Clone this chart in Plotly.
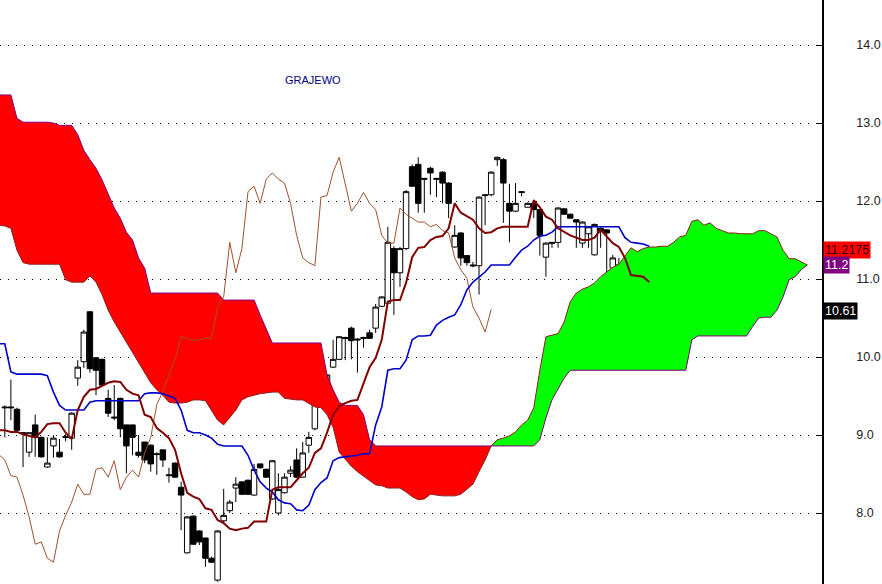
import plotly.graph_objects as go

# ---- candle data ----
opens = [9.36, 9.36, 9.33, 9.03, 8.78, 9.13, 8.97, 8.59, 8.86, 8.78,
         8.98, 8.96, 9.73, 9.94, 10.58, 9.99, 9.97, 9.47, 9.23, 9.47,
         9.13, 9.13, 8.78, 8.91, 8.87, 8.76, 8.81, 8.49, 8.64, 8.33,
         7.49, 7.96, 7.77, 7.68, 7.42, 7.14, 7.90, 8.03, 8.32, 8.40,
         8.42, 8.23, 8.63, 8.56, 8.18, 8.00, 8.26, 8.51, 8.68, 8.46,
         8.87, 9.08, 9.57, 9.56, 9.87, 9.97, 10.25, 10.37, 10.23, 10.25,
         10.31, 10.37, 10.65, 10.69, 11.39, 11.08, 11.39, 12.44, 12.47, 12.29,
         12.42, 12.29, 12.37, 12.23, 11.41, 11.59, 11.30, 11.18, 11.17, 12.08,
         12.08, 12.53, 12.53, 11.97, 11.87, 12.12, 11.92, 11.97, 11.89, 11.28,
         11.47, 11.47, 11.90, 11.83, 11.76, 11.46, 11.58, 11.31, 11.65, 11.63,
         11.14, 11.18, 11.08, 11.01, 10.58, 10.42, 10.31]
highs = [9.38, 9.71, 9.35, 9.04, 9.03, 9.26, 8.98, 8.97, 9.00, 8.95,
         9.01, 9.29, 9.96, 10.35, 10.59, 10.00, 9.98, 9.58, 9.64, 9.48,
         9.13, 9.13, 9.00, 8.91, 8.88, 8.78, 8.81, 8.58, 8.65, 8.40,
         7.96, 7.97, 7.78, 7.68, 7.44, 7.78, 8.31, 8.17, 8.46, 8.40,
         8.43, 8.63, 8.63, 8.57, 8.68, 8.51, 8.51, 8.60, 8.83, 8.91,
         9.04, 9.55, 9.57, 9.78, 10.22, 10.27, 10.26, 10.39, 10.24, 10.26,
         10.35, 10.68, 10.78, 11.67, 11.42, 11.41, 12.14, 12.47, 12.56, 12.29,
         12.44, 12.29, 12.38, 12.24, 11.69, 11.60, 11.30, 11.22, 12.06, 12.09,
         12.38, 12.57, 12.55, 12.22, 12.23, 12.12, 11.98, 12.00, 11.89, 11.47,
         11.47, 11.92, 11.90, 11.84, 11.76, 11.74, 11.67, 11.71, 11.66, 11.63,
         11.31, 11.27, 11.08, 11.02, 10.76, 10.64, 10.62]
lows = [8.97, 9.19, 9.04, 8.59, 8.72, 8.72, 8.71, 8.58, 8.71, 8.71,
        8.92, 8.81, 9.63, 9.86, 9.80, 9.51, 9.63, 9.23, 9.19, 8.97,
        8.51, 8.74, 8.71, 8.64, 8.53, 8.49, 8.59, 8.39, 8.45, 7.78,
        7.48, 7.59, 7.59, 7.31, 7.36, 7.12, 7.86, 8.00, 8.14, 8.23,
        8.23, 8.22, 8.57, 8.45, 8.17, 7.97, 8.25, 8.46, 8.45, 8.45,
        8.77, 9.06, 9.49, 9.49, 9.86, 9.96, 9.96, 9.97, 9.80, 10.12,
        10.23, 10.31, 10.64, 10.69, 10.54, 10.90, 11.37, 12.18, 11.85, 11.85,
        12.08, 12.05, 11.97, 11.78, 11.40, 11.17, 11.17, 11.15, 10.80, 11.69,
        12.06, 12.45, 11.72, 11.47, 11.86, 12.06, 11.92, 11.78, 11.30, 11.03,
        11.40, 11.40, 11.83, 11.78, 11.40, 11.40, 11.40, 11.30, 11.40, 11.03,
        11.13, 11.10, 10.39, 10.63, 10.39, 10.31, 10.30]
closes = [9.35, 9.35, 9.06, 9.02, 9.03, 8.97, 8.72, 8.64, 8.96, 8.72,
          8.97, 9.28, 9.87, 10.32, 9.85, 9.83, 9.64, 9.28, 9.22, 9.08,
          8.86, 8.97, 8.74, 8.68, 8.63, 8.75, 8.68, 8.48, 8.46, 8.23,
          7.95, 7.60, 7.63, 7.42, 7.37, 7.77, 7.97, 8.14, 8.37, 8.24,
          8.24, 8.56, 8.58, 8.46, 8.67, 8.30, 8.46, 8.55, 8.46, 8.77,
          8.97, 9.39, 9.56, 9.77, 9.97, 10.26, 10.24, 10.21, 10.22, 10.24,
          10.24, 10.64, 10.77, 11.47, 11.08, 11.39, 12.12, 12.19, 11.97, 12.28,
          12.36, 12.28, 12.23, 11.97, 11.56, 11.27, 11.21, 11.17, 12.05, 12.07,
          12.37, 12.56, 12.23, 11.87, 11.97, 12.11, 11.97, 11.89, 11.56, 11.46,
          11.46, 11.91, 11.83, 11.78, 11.73, 11.73, 11.67, 11.70, 11.62, 11.59,
          11.27, 11.12, 11.01, 10.64, 10.50, 10.32, 10.61]

# ---- Ichimoku lines, one value per period from the left edge ----
tenkan = [9.06, 9.06, 9.04, 9.04, 9.01, 8.99, 8.97, 9.04, 9.14, 9.15, 9.15,
          9.03, 8.95, 9.32, 9.49, 9.58, 9.59, 9.63, 9.67, 9.69, 9.68,
          9.58, 9.53, 9.51, 9.26, 9.23, 9.09, 9.03, 8.96, 8.81, 8.51,
          8.26, 8.21, 8.18, 8.06, 8.04, 7.91, 7.87, 7.80, 7.78, 7.80,
          7.81, 7.89, 7.89, 7.89, 8.30, 8.33, 8.33, 8.33, 8.42, 8.51,
          8.58, 8.77, 8.83, 9.03, 9.26, 9.37, 9.41, 9.44, 9.45, 9.67,
          9.87, 9.99, 10.22, 10.71, 10.73, 10.73, 10.95, 11.28, 11.40, 11.41,
          11.50, 11.54, 11.55, 11.65, 11.97, 11.85, 11.80, 11.76, 11.65, 11.59,
          11.60, 11.65, 11.67, 11.67, 11.67, 11.67, 11.67, 12.01, 11.92, 11.80,
          11.76, 11.65, 11.60, 11.56, 11.53, 11.50, 11.50, 11.53, 11.63, 11.54,
          11.46, 11.41, 11.27, 11.05, 11.04, 11.03, 10.96]
kijun = [10.17, 10.17, 9.81, 9.78, 9.78, 9.78, 9.78, 9.78, 9.76, 9.55, 9.38,
         9.32, 9.32, 9.32, 9.32, 9.42, 9.44, 9.44, 9.44, 9.44, 9.44,
         9.44, 9.44, 9.44, 9.53, 9.54, 9.54, 9.53, 9.50, 9.47, 9.32,
         9.06, 9.03, 9.03, 9.00, 8.96, 8.88, 8.86, 8.86, 8.86, 8.86,
         8.74, 8.55, 8.40, 8.32, 8.27, 8.17, 8.13, 8.12, 8.04, 8.03,
         8.10, 8.30, 8.39, 8.45, 8.67, 8.71, 8.72, 8.73, 8.74, 8.76,
         8.76, 9.13, 9.36, 9.83, 9.85, 9.85, 9.96, 10.22, 10.27, 10.27,
         10.28, 10.41, 10.47, 10.51, 10.54, 10.67, 10.86, 10.96, 11.03, 11.09,
         11.18, 11.18, 11.18, 11.18, 11.28, 11.37, 11.42, 11.50, 11.55, 11.56,
         11.60, 11.67, 11.67, 11.67, 11.67, 11.67, 11.67, 11.67, 11.67, 11.67,
         11.67, 11.67, 11.53, 11.47, 11.46, 11.45, 11.42]
span_a = [11.69, 11.68, 11.65, 11.37, 11.21, 11.19, 11.19, 11.19, 11.19, 11.19,
          11.19, 10.99, 10.96, 10.96, 10.96, 11.04, 10.96, 10.80, 10.60, 10.45,
          10.32, 10.19, 10.06, 9.94, 9.80, 9.67, 9.58, 9.51, 9.42, 9.41,
          9.41, 9.42, 9.45, 9.45, 9.44, 9.32, 9.19, 9.13, 9.22, 9.32,
          9.45, 9.49, 9.51, 9.53, 9.54, 9.55, 9.55, 9.47, 9.46, 9.45,
          9.45, 9.40, 9.36, 9.35, 9.26, 9.10, 8.78, 8.69, 8.60, 8.53,
          8.47, 8.42, 8.36, 8.35, 8.32, 8.32, 8.32, 8.27, 8.21, 8.17,
          8.18, 8.24, 8.23, 8.22, 8.22, 8.22, 8.24, 8.30, 8.37, 8.53,
          8.68, 8.86, 8.94, 8.96, 8.99, 9.04, 9.13, 9.19, 9.35, 9.83,
          10.26, 10.28, 10.30, 10.45, 10.71, 10.82, 10.87, 10.90, 10.95, 11.03,
          11.09, 11.15, 11.19, 11.30, 11.40, 11.35, 11.39, 11.41, 11.41, 11.42,
          11.42, 11.47, 11.54, 11.56, 11.74, 11.76, 11.69, 11.72, 11.65, 11.62,
          11.59, 11.59, 11.58, 11.58, 11.58, 11.62, 11.62, 11.58, 11.54, 11.37,
          11.26, 11.26, 11.22, 11.18]
span_b = [13.36, 13.36, 13.36, 13.06, 13.01, 13.01, 13.01, 13.01, 13.01, 13.00,
          12.97, 12.97, 12.97, 12.85, 12.65, 12.53, 12.42, 12.27, 12.08, 11.91,
          11.78, 11.60, 11.50, 11.27, 11.14, 10.82, 10.82, 10.82, 10.82, 10.82,
          10.82, 10.82, 10.82, 10.82, 10.82, 10.82, 10.82, 10.73, 10.73, 10.73,
          10.73, 10.73, 10.73, 10.54, 10.35, 10.18, 10.18, 10.18, 10.18, 10.18,
          10.18, 10.18, 10.18, 10.18, 9.77, 9.58, 9.42, 9.38, 9.38, 9.38,
          9.26, 8.94, 8.86, 8.86, 8.86, 8.86, 8.86, 8.86, 8.86, 8.86,
          8.86, 8.86, 8.86, 8.86, 8.86, 8.86, 8.86, 8.86, 8.86, 8.86,
          8.86, 8.86, 8.86, 8.86, 8.86, 8.86, 8.86, 8.86, 8.86, 8.94,
          9.22, 9.45, 9.60, 9.73, 9.83, 9.83, 9.83, 9.83, 9.83, 9.83,
          9.83, 9.83, 9.83, 9.83, 9.83, 9.83, 9.83, 9.83, 9.83, 9.83,
          9.83, 9.83, 9.83, 9.83, 10.22, 10.27, 10.27, 10.27, 10.27, 10.27,
          10.27, 10.27, 10.27, 10.27, 10.39, 10.50, 10.51, 10.51, 10.60, 10.77,
          10.99, 11.03, 11.12, 11.18]

y_ticks = [8.0, 9.0, 10.0, 11.0, 12.0, 13.0, 14.0]
value_labels = ["11.2175", "11.2", "10.61"]
value_levels = [11.2175, 11.2, 10.61]
title_text = "GRAJEWO"
SHIFT = 26

candle_x = list(range(1, len(opens) + 1))
line_x = list(range(0, len(tenkan)))
span_x = list(range(0, len(span_a)))
chikou_x = [n - SHIFT for n in candle_x if n - SHIFT >= 0]
chikou_y = [c for n, c in zip(candle_x, closes) if n - SHIFT >= 0]
upper = [max(a, b) for a, b in zip(span_a, span_b)]

fig = go.Figure()
# red cloud (span B above span A)
fig.add_trace(go.Scatter(x=span_x, y=span_a, mode="lines", line=dict(width=0),
                         hoverinfo="skip", showlegend=False))
fig.add_trace(go.Scatter(x=span_x, y=upper, mode="lines", line=dict(width=0),
                         fill="tonexty", fillcolor="#FF0000", hoverinfo="skip", showlegend=False))
# green cloud (span A above span B)
fig.add_trace(go.Scatter(x=span_x, y=span_b, mode="lines", line=dict(width=0),
                         hoverinfo="skip", showlegend=False))
fig.add_trace(go.Scatter(x=span_x, y=upper, mode="lines", line=dict(width=0),
                         fill="tonexty", fillcolor="#00FF00", hoverinfo="skip", showlegend=False))
# cloud edges
fig.add_trace(go.Scatter(x=span_x, y=span_a, mode="lines", line=dict(color="#8B2020", width=1),
                         showlegend=False))
fig.add_trace(go.Scatter(x=span_x, y=span_b, mode="lines", line=dict(color="#800080", width=1),
                         showlegend=False))
# chikou
fig.add_trace(go.Scatter(x=chikou_x, y=chikou_y, mode="lines", line=dict(color="#A0522D", width=1),
                         showlegend=False))
# candles
fig.add_trace(go.Candlestick(x=candle_x, open=opens, high=highs, low=lows, close=closes,
                             increasing=dict(fillcolor="#FFFFFF", line=dict(color="#000000", width=1)),
                             decreasing=dict(fillcolor="#000000", line=dict(color="#000000", width=1)),
                             whiskerwidth=0, showlegend=False))
# kijun & tenkan
fig.add_trace(go.Scatter(x=line_x, y=kijun, mode="lines", line=dict(color="#0000C8", width=1.6),
                         showlegend=False))
fig.add_trace(go.Scatter(x=line_x, y=tenkan, mode="lines", line=dict(color="#800000", width=2),
                         showlegend=False))

font_family = "Liberation Sans, Arial, sans-serif"
annotations = [dict(text=title_text, xref="paper", yref="paper", x=313 / 822, y=1 - 80 / 584,
                    xanchor="center", yanchor="middle", showarrow=False,
                    font=dict(family=font_family, size=11, color="#000080"))]
label_styles = [("#FF0000", "#300000", 12.5), ("#800080", "#FFFFFF", -1.6), ("#000000", "#FFFFFF", -1.4)]
for txt, lvl, (bg, fg, ysh) in zip(value_labels, value_levels, label_styles):
    annotations.append(dict(text=txt, xref="paper", yref="y", x=1.0, y=lvl, xanchor="left",
                            yanchor="middle", showarrow=False, bgcolor=bg, borderpad=1,
                            xshift=1, yshift=ysh,
                            font=dict(family=font_family, size=12.5, color=fg)))

fig.update_layout(
    width=882, height=584,
    margin=dict(l=0, r=60, t=0, b=0, autoexpand=False),
    paper_bgcolor="#FFFFFF", plot_bgcolor="#FFFFFF",
    showlegend=False,
    boxgap=0.1, boxgroupgap=0,
    annotations=annotations,
    xaxis=dict(range=[0.2105, 135.41], visible=False, showgrid=False, zeroline=False,
               rangeslider=dict(visible=False), fixedrange=True),
    yaxis=dict(range=[7.090, 14.577], side="right", tickvals=y_ticks, tickformat=".1f",
               showgrid=True, gridcolor="#000000", gridwidth=1, griddash="1px,7px",
               zeroline=False, showline=True, linecolor="#000000", linewidth=1.5,
               ticks="inside", ticklen=6, tickcolor="#000000", ticklabelstandoff=30,
               automargin=False,
               tickfont=dict(family=font_family, size=12.5, color="#222222"), fixedrange=True),
)

fig.write_html("out.html", config={"displayModeBar": False},
               post_script="document.body.style.margin='0';document.body.style.overflow='hidden';")
